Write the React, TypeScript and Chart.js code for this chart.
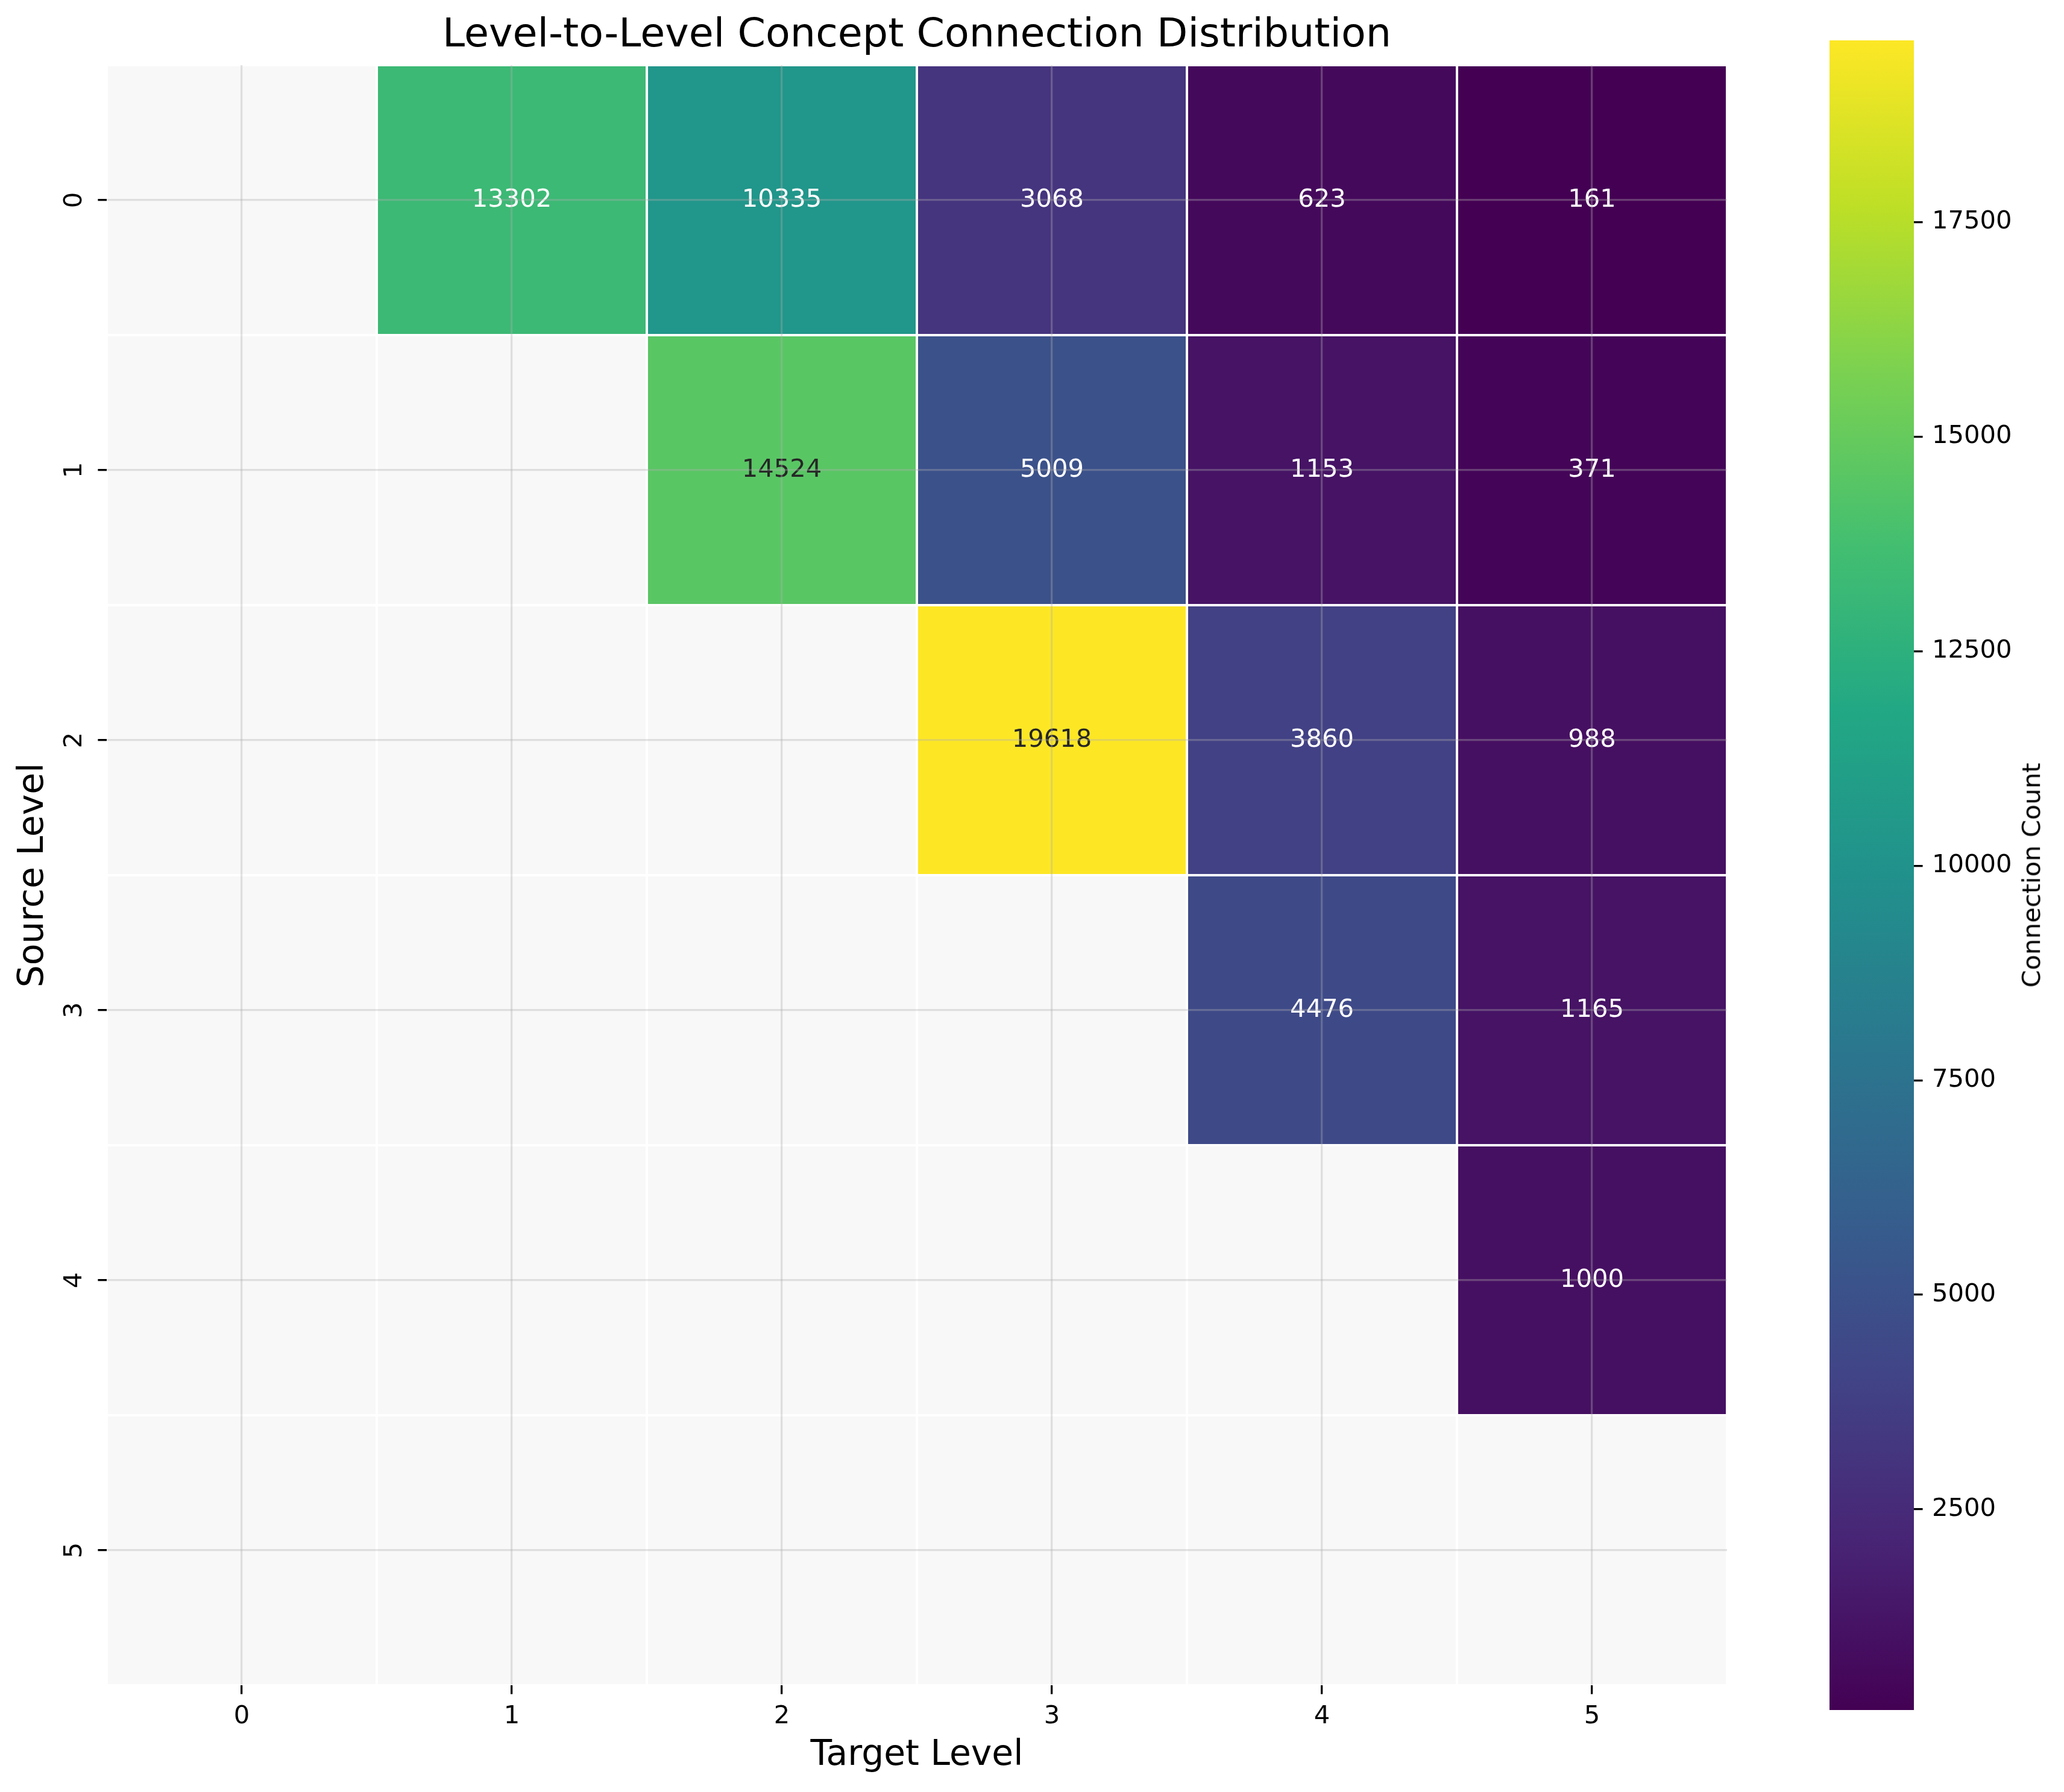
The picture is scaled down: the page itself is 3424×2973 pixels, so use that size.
import React, { useEffect, useRef } from 'react';
import { Chart, registerables } from 'chart.js';

Chart.register(...registerables);

// ---------- data ----------
const targetLevels = ['0', '1', '2', '3', '4', '5'];
const sourceLevels = ['0', '1', '2', '3', '4', '5'];

const fromLevel0: (number | null)[] = [null, 13302, 10335, 3068, 623, 161];
const fromLevel1: (number | null)[] = [null, null, 14524, 5009, 1153, 371];
const fromLevel2: (number | null)[] = [null, null, null, 19618, 3860, 988];
const fromLevel3: (number | null)[] = [null, null, null, null, 4476, 1165];
const fromLevel4: (number | null)[] = [null, null, null, null, null, 1000];
const fromLevel5: (number | null)[] = [null, null, null, null, null, null];

const colorbarTicks = [2500, 5000, 7500, 10000, 12500, 15000, 17500];

const chartTitle = 'Level-to-Level Concept Connection Distribution';
const xTitle = 'Target Level';
const yTitle = 'Source Level';
const cbTitle = 'Connection Count';

// ---------- styling ----------
const FONT = 'DejaVu Sans';
const VIRIDIS = [
  '#440154', '#482475', '#414487', '#355f8d', '#2a788e', '#21918c',
  '#22a884', '#44bf70', '#7ad151', '#bddf26', '#fde725',
];
const EMPTY = '#f8f8f8';
const GRID = 'rgba(176,176,176,0.35)';
const TICK_FONT = 41.7;
const ANNOT_FONT = 41.7;

const rows = [fromLevel0, fromLevel1, fromLevel2, fromLevel3, fromLevel4, fromLevel5];
const allValues = rows.flat().filter((v): v is number => v != null);
const vmin = Math.min(...allValues);
const vmax = Math.max(...allValues);

function hexToRgb(h: string): number[] {
  return [parseInt(h.slice(1, 3), 16), parseInt(h.slice(3, 5), 16), parseInt(h.slice(5, 7), 16)];
}
const VIR_RGB = VIRIDIS.map(hexToRgb);

function viridis(t: number): number[] {
  const tt = Math.max(0, Math.min(1, t)) * (VIR_RGB.length - 1);
  const i = Math.min(Math.floor(tt), VIR_RGB.length - 2);
  const f = tt - i;
  const a = VIR_RGB[i];
  const b = VIR_RGB[i + 1];
  return [0, 1, 2].map((k) => Math.round(a[k] + (b[k] - a[k]) * f));
}

function cellRgb(v: number): number[] {
  return viridis((v - vmin) / (vmax - vmin));
}

function cellColor(v: number | null): string {
  if (v == null) return EMPTY;
  const [r, g, b] = cellRgb(v);
  return `rgb(${r},${g},${b})`;
}

function textColorFor(v: number): string {
  const lin = cellRgb(v).map((c) => {
    const s = c / 255;
    return s <= 0.03928 ? s / 12.92 : Math.pow((s + 0.055) / 1.055, 2.4);
  });
  const lum = 0.2126 * lin[0] + 0.7152 * lin[1] + 0.0722 * lin[2];
  return lum > 0.408 ? '#262626' : '#ffffff';
}

const annotatePlugin = {
  id: 'cellValues',
  afterDatasetsDraw(chart: any) {
    const ctx = chart.ctx;
    ctx.save();
    ctx.font = `${ANNOT_FONT}px "${FONT}"`;
    ctx.textAlign = 'center';
    ctx.textBaseline = 'alphabetic';
    rows.forEach((row, r) => {
      const meta = chart.getDatasetMeta(r);
      row.forEach((v, c) => {
        if (v == null) return;
        const el = meta.data[c];
        if (!el) return;
        const cy = (el.y + el.base) / 2;
        ctx.fillStyle = textColorFor(v);
        ctx.fillText(String(v), el.x, cy + ANNOT_FONT * 0.264);
      });
    });
    ctx.restore();
  },
};

export default function App() {
  const mainRef = useRef<HTMLCanvasElement>(null);
  const cbRef = useRef<HTMLCanvasElement>(null);

  useEffect(() => {
    if (!mainRef.current || !cbRef.current) return;

    const tickGrid = {
      color: GRID,
      lineWidth: 3.3,
      tickColor: '#000000',
      tickWidth: 3.3,
      tickLength: 14.6,
      z: 1,
    };

    const main = new Chart(mainRef.current, {
      type: 'bar',
      data: {
        labels: targetLevels,
        datasets: rows.map((row, r) => ({
          label: `Source ${sourceLevels[r]}`,
          data: row.map(() => [r - 0.5, r + 0.5]),
          backgroundColor: row.map(cellColor),
          borderColor: '#ffffff',
          borderWidth: 2,
          borderSkipped: false,
          barPercentage: 1,
          categoryPercentage: 1,
          grouped: false,
          inflateAmount: 0,
        })),
      } as any,
      options: {
        responsive: false,
        animation: false,
        events: [],
        layout: { padding: { left: 0, right: 135, top: 0, bottom: 0 } },
        plugins: {
          legend: { display: false },
          tooltip: { enabled: false },
          title: {
            display: true,
            text: chartTitle,
            fullSize: false,
            color: '#000000',
            font: { family: FONT, size: 66.7, weight: 'normal' },
            padding: { top: 20, bottom: 8 },
          },
        },
        scales: {
          x: {
            type: 'category',
            offset: true,
            grid: { ...tickGrid, offset: false },
            border: { display: false },
            ticks: {
              color: '#000000',
              font: { family: FONT, size: TICK_FONT },
              padding: 12.6,
              minRotation: 0,
              maxRotation: 0,
              autoSkip: false,
            },
            title: {
              display: true,
              text: xTitle,
              color: '#000000',
              font: { family: FONT, size: 58.3 },
              padding: { top: 0, bottom: 25 },
            },
            afterFit: (s: any) => {
              s.height = 177;
            },
          },
          y: {
            type: 'linear',
            min: -0.5,
            max: 5.5,
            reverse: true,
            afterBuildTicks: (s: any) => {
              s.ticks = sourceLevels.map((_, i) => ({ value: i }));
            },
            grid: { ...tickGrid },
            border: { display: false },
            ticks: {
              color: '#000000',
              font: { family: FONT, size: TICK_FONT },
              padding: 24.9,
              minRotation: 90,
              maxRotation: 90,
              crossAlign: 'center',
              autoSkip: false,
              callback: (v: any) => sourceLevels[Number(v)] ?? '',
            },
            title: {
              display: true,
              text: yTitle,
              color: '#000000',
              font: { family: FONT, size: 58.3 },
              padding: { top: 20.8, bottom: 0 },
            },
            afterFit: (s: any) => {
              s.width = 177;
            },
          },
        },
      } as any,
      plugins: [annotatePlugin],
    });

    const cb = new Chart(cbRef.current, {
      type: 'bar',
      data: {
        labels: [cbTitle],
        datasets: [
          {
            data: [[vmin, vmax]],
            backgroundColor: (c: any) => {
              const chart = c.chart;
              const ys = chart.scales && chart.scales.y;
              if (!chart.chartArea || !ys) return VIRIDIS[0];
              const g = chart.ctx.createLinearGradient(0, ys.getPixelForValue(vmin), 0, ys.getPixelForValue(vmax));
              VIRIDIS.forEach((col, i) => g.addColorStop(i / (VIRIDIS.length - 1), col));
              return g;
            },
            borderWidth: 0,
            barPercentage: 1,
            categoryPercentage: 1,
            inflateAmount: 0,
          },
        ],
      } as any,
      options: {
        responsive: false,
        animation: false,
        events: [],
        layout: { padding: { left: 35, right: 0, top: 67, bottom: 136 } },
        plugins: {
          legend: { display: false },
          tooltip: { enabled: false },
          title: { display: false },
        },
        scales: {
          x: { display: false },
          y: {
            position: 'right',
            min: vmin,
            max: vmax,
            afterBuildTicks: (s: any) => {
              s.ticks = colorbarTicks.map((v) => ({ value: v }));
            },
            grid: { ...tickGrid, drawOnChartArea: false },
            border: { display: false },
            ticks: {
              color: '#000000',
              font: { family: FONT, size: TICK_FONT },
              padding: 15.4,
              autoSkip: false,
              callback: (v: any) => String(v),
            },
            afterFit: (s: any) => {
              s.width = 249;
            },
          },
        },
      } as any,
    });

    return () => {
      main.destroy();
      cb.destroy();
    };
  }, []);

  return (
    <div
      style={{
        position: 'fixed',
        left: 0,
        top: 0,
        width: 3424,
        height: 2973,
        background: '#ffffff',
        overflow: 'hidden',
      }}
    >
      <canvas
        ref={mainRef}
        width={3000}
        height={2973}
        style={{ position: 'absolute', left: 0, top: 0, display: 'block' }}
      />
      <canvas
        ref={cbRef}
        width={424}
        height={2973}
        style={{ position: 'absolute', left: 3000, top: 0, display: 'block' }}
      />
      <div
        style={{
          position: 'absolute',
          left: 3369.6,
          top: 1452,
          transform: 'translate(-50%, -50%) rotate(-90deg)',
          fontFamily: `"${FONT}"`,
          fontSize: 41.7,
          lineHeight: 1,
          whiteSpace: 'nowrap',
          color: '#000000',
        }}
      >
        {cbTitle}
      </div>
    </div>
  );
}
